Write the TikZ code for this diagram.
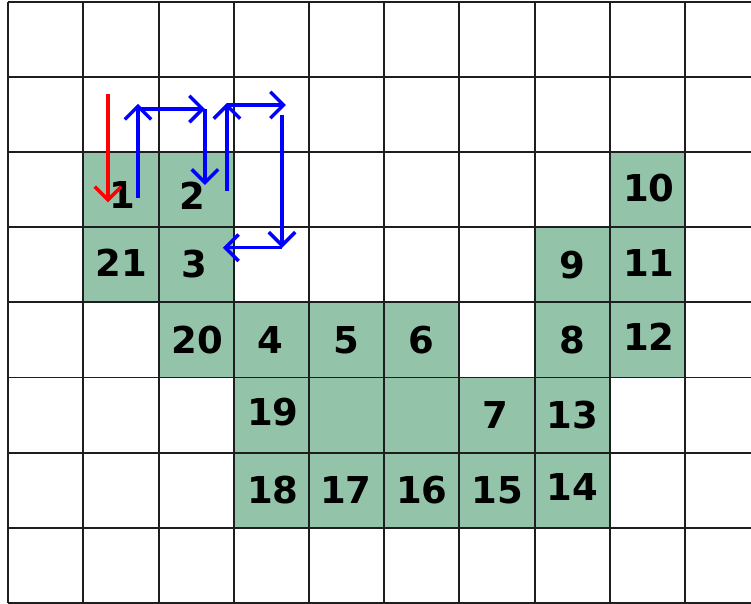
\documentclass[tikz,border=0pt]{standalone}
\usepackage{fontspec}
\setmainfont{DejaVu Sans}
\usetikzlibrary{arrows.meta}
\definecolor{cellgreen}{RGB}{147,196,170}
\definecolor{gridline}{RGB}{30,30,30}

\begin{document}
\begin{tikzpicture}[x=1cm, y=-1cm,
  num/.style={font=\bfseries\fontsize{14}{16}\selectfont, inner sep=0pt},
  gridl/.style={draw=gridline, line width=0.75pt},
  move/.style={draw=blue, line width=1.2pt,
               -{Straight Barb[length=5pt,width=10pt,line width=1.3pt]}},
  start/.style={move, draw=red}]
  \useasboundingbox (-0.11,-0.02) rectangle (9.877,8.0);
  % filled cells, given by their upper left corner
  \foreach \c/\r in {1/2,2/2,8/2, 1/3,2/3,7/3,8/3, 2/4,3/4,4/4,5/4,7/4,8/4,
                     3/5,4/5,5/5,6/5,7/5, 3/6,4/6,5/6,6/6,7/6}
    \fill[cellgreen] (\c,\r) rectangle ++(1,1);
  \begin{scope}
    \clip (-0.11,-0.02) rectangle (9.877,8.0);
    \draw[gridl] (0,0) grid (10,8);
  \end{scope}
  % numbers of the boundary cells
  \node[num] (n1)  at (1.52,2.57) {1};
  \node[num] (n2)  at (2.45,2.58) {2};
  \node[num] (n3)  at (2.48,3.49) {3};
  \node[num] (n4)  at (3.48,4.5)  {4};
  \node[num] (n5)  at (4.49,4.5)  {5};
  \node[num] (n6)  at (5.49,4.5)  {6};
  \node[num] (n7)  at (6.48,5.5)  {7};
  \node[num] (n8)  at (7.5,4.5)   {8};
  \node[num] (n9)  at (7.5,3.5)   {9};
  \node[num] (n10) at (8.52,2.48) {10};
  \node[num] (n11) at (8.52,3.48) {11};
  \node[num] (n12) at (8.52,4.46) {12};
  \node[num] (n13) at (7.5,5.5)   {13};
  \node[num] (n14) at (7.5,6.46)  {14};
  \node[num] (n15) at (6.5,6.5)   {15};
  \node[num] (n16) at (5.5,6.5)   {16};
  \node[num] (n17) at (4.49,6.5)  {17};
  \node[num] (n18) at (3.52,6.5)  {18};
  \node[num] (n19) at (3.52,5.46) {19};
  \node[num] (n20) at (2.51,4.5)  {20};
  \node[num] (n21) at (1.5,3.48)  {21};
  % end points of the search moves
  \coordinate (r0) at (1.326,1.23);
  \coordinate (r1) at (1.326,2.67);
  \coordinate (b0) at (1.725,2.61);
  \coordinate (b1) at (1.725,1.36);
  \coordinate (b2) at (1.725,1.43);
  \coordinate (b3) at (2.616,1.43);
  \coordinate (b4) at (2.616,2.44);
  \coordinate (b5) at (2.908,2.52);
  \coordinate (b6) at (2.908,1.35);
  \coordinate (b7) at (2.908,1.376);
  \coordinate (b8) at (3.693,1.376);
  \coordinate (b9) at (3.64,1.51);
  \coordinate (b10) at (3.64,3.275);
  \coordinate (b11) at (2.855,3.275);
  \draw[start] (r0) -- (r1);
  \draw[move] (b0) -- (b1);
  \draw[move] (b2) -- (b3);
  \draw[move] (b3) -- (b4);
  \draw[move] (b5) -- (b6);
  \draw[move] (b7) -- (b8);
  \draw[move] (b9) -- (b10);
  \draw[move] (b10) -- (b11);
\end{tikzpicture}
\end{document}
